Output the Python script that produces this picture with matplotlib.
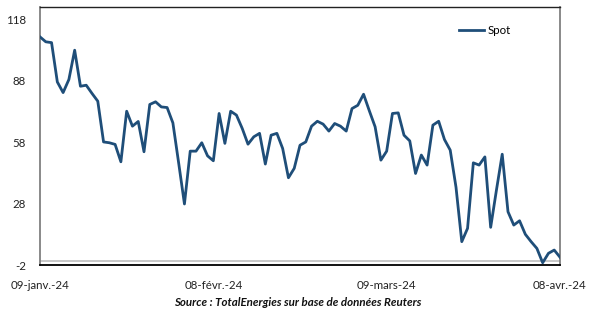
import matplotlib
matplotlib.use("Agg")
import matplotlib.pyplot as plt
import pandas as pd

plt.rcParams['font.family'] = ['Lato', 'DejaVu Sans']

dates = pd.date_range("2024-01-09", "2024-04-08", freq="D")
spot = [109.4, 107.0, 106.6, 87.4, 82.2, 88.6, 102.9, 85.3, 85.8, 81.8,
        78.0, 58.1, 57.7, 56.9, 48.4, 73.1, 65.8, 68.1, 53.3, 76.4,
        77.7, 75.2, 74.9, 67.4, 47.8, 27.8, 53.6, 53.6, 57.7, 51.3,
        48.9, 72.0, 57.4, 73.1, 71.2, 64.7, 57.0, 60.6, 62.3, 47.3,
        61.4, 62.3, 54.9, 40.6, 45.2, 56.5, 58.1, 65.8, 68.2, 66.8,
        63.4, 67.1, 65.8, 63.4, 74.4, 76.0, 81.4, 73.3, 65.5, 49.2,
        53.6, 72.0, 72.3, 61.4, 58.6, 42.7, 51.7, 46.8, 66.3, 68.2,
        59.3, 54.1, 36.0, 9.4, 15.9, 47.9, 46.8, 50.8, 16.4, 34.6,
        52.1, 24.0, 17.5, 19.6, 13.0, 9.4, 6.1, -0.9, 3.7, 5.3, 1.8]
y_ticks = [-2, 28, 58, 88, 118]
x_tick_dates = ["2024-01-09", "2024-02-08", "2024-03-09", "2024-04-08"]
x_tick_labels = ["09-janv.-24", "08-févr.-24", "09-mars-24", "08-avr.-24"]

fig = plt.figure(figsize=(5.94, 3.09), dpi=100)
ax = fig.add_axes([40/594, 1-265/309, 520/594, 258/309])

ax.axhline(0, color="#BFBFBF", lw=1.2, zorder=1)
ax.plot(dates, spot, color="#1F4E79", lw=2.0, label="Spot", zorder=3)

ax.set_ylim(-2, 124)
ax.set_xlim(pd.Timestamp("2024-01-09"), pd.Timestamp("2024-04-08"))
ax.set_yticks(y_ticks)
ax.set_yticklabels([str(v) for v in y_ticks])
ax.set_xticks([pd.Timestamp(d) for d in x_tick_dates])
ax.set_xticklabels(x_tick_labels)
ax.tick_params(axis="both", length=0, labelsize=8.3, colors="#222222")
ax.tick_params(axis="y", pad=10)
ax.tick_params(axis="x", pad=11)

for s in ["left", "right"]:
    ax.spines[s].set_color("#808080")
    ax.spines[s].set_linewidth(1.3)
ax.spines["top"].set_color("#222222")
ax.spines["top"].set_linewidth(1.0)
ax.spines["bottom"].set_color("#000000")
ax.spines["bottom"].set_linewidth(1.3)

leg = ax.legend(loc="center left", bbox_to_anchor=(419/520, (265-31)/258), frameon=False,
                fontsize=8.3, handlelength=2.2, handletextpad=0.3, borderaxespad=0,
                borderpad=0)

fig.text(298/594, 1-302/309, "Source : TotalEnergies sur base de données Reuters",
         ha="center", va="center", fontsize=8.3, fontweight="bold", fontstyle="italic",
         color="#111111")

fig.savefig("out.png", dpi=100)
